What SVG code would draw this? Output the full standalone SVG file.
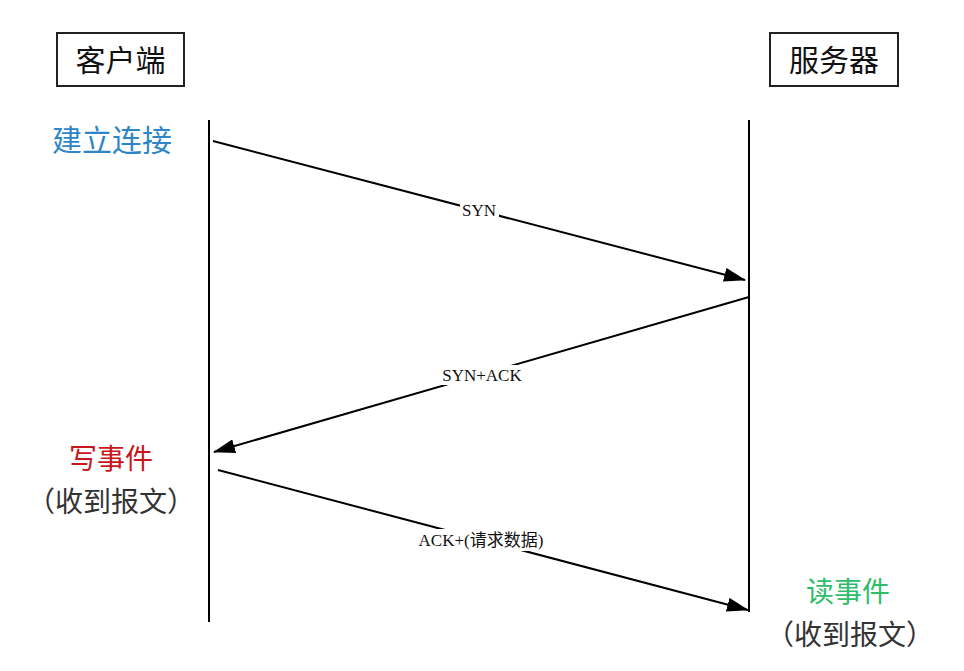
<svg xmlns="http://www.w3.org/2000/svg" width="964" height="671" viewBox="0 0 964 671">
<defs>
<marker id="ah" markerWidth="22" markerHeight="14" refX="21" refY="7" orient="auto" markerUnits="userSpaceOnUse">
<path d="M0,0 L22,7 L0,14 Z" fill="#000"/>
</marker>
<style>
.box{fill:#fff;stroke:#222;stroke-width:2}
.title{font-family:"Noto Sans CJK SC",sans-serif;font-size:30px;fill:#111;text-anchor:middle;dominant-baseline:central}
.note{font-family:"Noto Sans CJK SC",sans-serif;font-size:28px;text-anchor:middle;dominant-baseline:central}
.life{stroke:#000;stroke-width:2;fill:none}
.msg{stroke:#000;stroke-width:2;fill:none;marker-end:url(#ah)}
.lbl{font-family:"Liberation Serif","Noto Sans CJK SC",serif;font-size:17px;fill:#111;text-anchor:middle;dominant-baseline:central}
.bg{fill:#fff}
</style>
</defs>
<rect width="964" height="671" fill="#fff"/>
<g id="client">
<rect class="box" x="57" y="33" width="127" height="53"/>
<text class="title" x="120.5" y="58">客户端</text>
</g>
<g id="server">
<rect class="box" x="770" y="33" width="128" height="53"/>
<text class="title" x="834" y="58">服务器</text>
</g>
<g id="lifelines">
<line class="life" x1="209" y1="120" x2="209" y2="622"/>
<line class="life" x1="749" y1="120" x2="749" y2="612"/>
</g>
<g id="connectors">
<line class="msg" x1="213" y1="141" x2="745" y2="280"/>
<line class="msg" x1="749" y1="297" x2="214" y2="452"/>
<line class="msg" x1="218" y1="470" x2="748" y2="610"/>
<rect class="bg" x="460" y="200" width="39" height="20"/>
<text class="lbl" x="479" y="210">SYN</text>
<rect class="bg" x="440" y="365" width="84" height="20"/>
<text class="lbl" x="482" y="375">SYN+ACK</text>
<rect class="bg" x="406" y="529" width="152" height="22"/>
<text class="lbl" x="481" y="540">ACK+(请求数据)</text>
</g>
<g id="notes">
<text class="note" x="112" y="138" fill="#2e86c8" style="font-size:30px">建立连接</text>
<text class="note" x="111" y="457" fill="#c8161d">写事件</text>
<text class="note" x="111" y="500" fill="#333">（收到报文）</text>
<text class="note" x="848" y="590" fill="#2ebd6b">读事件</text>
<text class="note" x="850" y="633" fill="#333">（收到报文）</text>
</g>
</svg>
